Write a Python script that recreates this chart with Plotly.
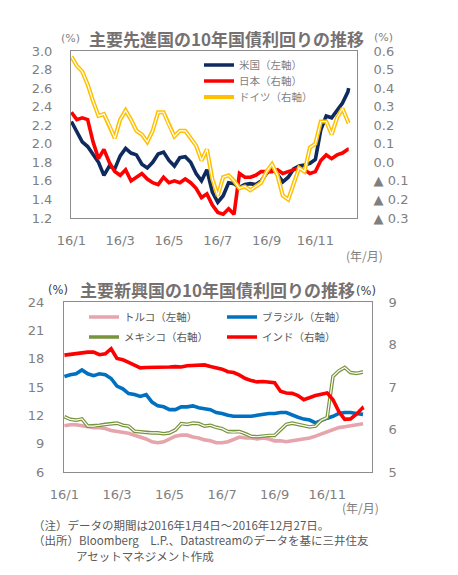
import plotly.graph_objects as go

# ---------------- data ----------------
dates = ["2016-01-04", "2016-01-11", "2016-01-18", "2016-01-25", "2016-02-01", "2016-02-08",
         "2016-02-15", "2016-02-22", "2016-02-29", "2016-03-07", "2016-03-14", "2016-03-21",
         "2016-03-28", "2016-04-04", "2016-04-11", "2016-04-18", "2016-04-25", "2016-05-02",
         "2016-05-09", "2016-05-16", "2016-05-23", "2016-05-30", "2016-06-06", "2016-06-13",
         "2016-06-20", "2016-06-27", "2016-07-04", "2016-07-11", "2016-07-18", "2016-07-25",
         "2016-08-01", "2016-08-08", "2016-08-15", "2016-08-22", "2016-08-29", "2016-09-05",
         "2016-09-12", "2016-09-19", "2016-09-26", "2016-10-03", "2016-10-10", "2016-10-17",
         "2016-10-24", "2016-10-31", "2016-11-07", "2016-11-14", "2016-11-21", "2016-11-28",
         "2016-12-05", "2016-12-12", "2016-12-19", "2016-12-26", "2016-12-27"]

# developed markets (%)
us = [2.24, 2.12, 2.02, 1.97, 1.89, 1.80, 1.66, 1.76, 1.73, 1.87, 1.95, 1.90, 1.88, 1.78,
      1.74, 1.80, 1.89, 1.91, 1.82, 1.76, 1.85, 1.86, 1.80, 1.68, 1.60, 1.72, 1.48, 1.37,
      1.44, 1.58, 1.57, 1.53, 1.56, 1.57, 1.56, 1.60, 1.68, 1.74, 1.67, 1.59, 1.64, 1.73,
      1.76, 1.77, 1.79, 1.83, 2.15, 2.30, 2.28, 2.36, 2.44, 2.56, 2.60]
japan = [0.27, 0.23, 0.24, 0.23, 0.11, 0.02, 0.07, 0.00, -0.05, -0.07, -0.04, -0.10, -0.08,
         -0.06, -0.09, -0.11, -0.12, -0.08, -0.11, -0.10, -0.11, -0.09, -0.11, -0.14, -0.19,
         -0.17, -0.23, -0.27, -0.28, -0.25, -0.28, -0.06, -0.08, -0.08, -0.07, -0.05, -0.05,
         -0.05, -0.04, -0.06, -0.05, -0.04, -0.03, -0.04, -0.06, -0.05, 0.01, 0.04, 0.02,
         0.04, 0.05, 0.07, 0.07]
germany = [0.57, 0.52, 0.49, 0.42, 0.33, 0.25, 0.26, 0.20, 0.13, 0.23, 0.28, 0.23, 0.17,
           0.15, 0.11, 0.17, 0.27, 0.27, 0.20, 0.14, 0.17, 0.17, 0.13, 0.09, 0.01, 0.07,
           -0.09, -0.18, -0.08, -0.07, -0.10, -0.14, -0.13, -0.15, -0.13, -0.11, -0.05,
           -0.01, -0.07, -0.18, -0.20, -0.12, -0.03, -0.05, 0.08, 0.10, 0.22, 0.22, 0.15,
           0.24, 0.29, 0.22, 0.21]

# emerging markets (%)
turkey = [10.9, 11.0, 11.0, 10.9, 10.8, 10.7, 10.7, 10.6, 10.4, 10.3, 10.2, 10.1, 9.9, 9.7,
          9.5, 9.2, 9.1, 9.2, 9.5, 9.8, 9.9, 9.9, 9.7, 9.6, 9.4, 9.3, 9.1, 9.1, 9.2, 9.5,
          9.7, 9.6, 9.6, 9.5, 9.6, 9.5, 9.3, 9.3, 9.2, 9.3, 9.4, 9.5, 9.6, 9.8, 10.0, 10.2,
          10.5, 10.7, 10.8, 10.9, 11.0, 11.1, 11.1]
brazil = [16.1, 16.3, 16.4, 16.8, 16.4, 16.2, 16.4, 16.3, 15.9, 15.1, 14.8, 14.3, 14.2, 14.0,
          14.2, 13.4, 13.0, 12.9, 12.6, 12.6, 12.9, 12.9, 13.0, 12.8, 12.7, 12.6, 12.3, 12.2,
          12.0, 11.9, 11.9, 11.9, 11.9, 12.0, 12.1, 12.2, 12.2, 12.3, 12.3, 12.0, 11.8, 11.6,
          11.5, 11.2, 11.5, 11.7, 11.9, 12.2, 12.3, 12.3, 12.2, 12.1, 12.1]
mexico = [6.30, 6.24, 6.22, 6.25, 6.08, 6.08, 6.10, 6.12, 6.14, 6.15, 6.10, 6.08, 5.96, 5.94,
          5.93, 5.92, 5.92, 5.90, 5.92, 5.99, 6.14, 6.12, 6.15, 6.14, 6.08, 6.10, 6.05, 6.02,
          5.95, 5.94, 5.95, 5.90, 5.84, 5.83, 5.85, 5.86, 5.86, 5.99, 6.12, 6.15, 6.12, 6.08,
          6.06, 6.08, 6.22, 6.28, 7.25, 7.38, 7.46, 7.34, 7.32, 7.35, 7.35]
india = [7.75, 7.77, 7.80, 7.80, 7.82, 7.82, 7.76, 7.78, 7.90, 7.67, 7.64, 7.58, 7.51, 7.45,
         7.46, 7.46, 7.45, 7.47, 7.47, 7.48, 7.47, 7.50, 7.50, 7.52, 7.52, 7.48, 7.46, 7.42,
         7.36, 7.34, 7.28, 7.20, 7.15, 7.12, 7.13, 7.12, 7.10, 6.90, 6.86, 6.85, 6.80, 6.70,
         6.76, 6.80, 6.83, 6.86, 6.70, 6.42, 6.24, 6.25, 6.36, 6.50, 6.46]

x_tick_vals = ["2016-01-04", "2016-03-07", "2016-05-09", "2016-07-11", "2016-09-12", "2016-11-14"]
x_tick_text = ["16/1", "16/3", "16/5", "16/7", "16/9", "16/11"]
x_range = ["2016-01-03 12:00", "2017-01-06 18:00"]

top_left_ticks = [1.2, 1.4, 1.6, 1.8, 2.0, 2.2, 2.4, 2.6, 2.8, 3.0]
top_left_text = ["1.2", "1.4", "1.6", "1.8", "2.0", "2.2", "2.4", "2.6", "2.8", "3.0"]
top_right_ticks = [-0.3, -0.2, -0.1, 0.0, 0.1, 0.2, 0.3, 0.4, 0.5, 0.6]
top_right_text = ["▲ 0.3", "▲ 0.2", "▲ 0.1", "0.0", "0.1", "0.2", "0.3", "0.4", "0.5", "0.6"]
bot_left_ticks = [6, 9, 12, 15, 18, 21, 24]
bot_right_ticks = [5, 6, 7, 8, 9]

# ---------------- figure ----------------
W, H = 458, 575
GRAY = "#7F7F7F"
CJK = "Noto Sans CJK JP"
TICKF = "DejaVu Sans, Noto Sans CJK JP"


def px(x):
    return x / W


def py(y):
    return 1 - y / H


fig = go.Figure()

fig.add_trace(go.Scatter(x=dates, y=us, name="米国（左軸）", mode="lines",
                         line=dict(color="#0E2A5E", width=3.6), xaxis="x", yaxis="y",
                         legend="legend"))
fig.add_trace(go.Scatter(x=dates, y=japan, name="日本（右軸）", mode="lines",
                         line=dict(color="#FF0000", width=3.6), xaxis="x", yaxis="y2",
                         legend="legend4"))
fig.add_trace(go.Scatter(x=dates, y=germany, name="ドイツ（右軸）", mode="lines",
                         line=dict(color="#FFC000", width=4.2), xaxis="x", yaxis="y2",
                         legend="legend5"))
fig.add_trace(go.Scatter(x=dates, y=germany, showlegend=False, mode="lines", hoverinfo="skip",
                         line=dict(color="#FFFFFF", width=1.2), xaxis="x", yaxis="y2"))

fig.add_trace(go.Scatter(x=dates, y=turkey, name="トルコ（左軸）", mode="lines",
                         line=dict(color="#E6A4AC", width=3.6), xaxis="x2", yaxis="y3",
                         legend="legend2"))
fig.add_trace(go.Scatter(x=dates, y=brazil, name="ブラジル（左軸）", mode="lines",
                         line=dict(color="#0070C0", width=3.6), xaxis="x2", yaxis="y3",
                         legend="legend3"))
fig.add_trace(go.Scatter(x=dates, y=mexico, name="メキシコ（右軸）", mode="lines",
                         line=dict(color="#77933C", width=3.6), xaxis="x2", yaxis="y4",
                         legend="legend6"))
fig.add_trace(go.Scatter(x=dates, y=mexico, showlegend=False, mode="lines", hoverinfo="skip",
                         line=dict(color="#FFFFFF", width=1.2), xaxis="x2", yaxis="y4"))
fig.add_trace(go.Scatter(x=dates, y=india, name="インド（右軸）", mode="lines",
                         line=dict(color="#FF0000", width=3.6), xaxis="x2", yaxis="y4",
                         legend="legend7"))

axline = dict(showline=True, linecolor="#8C8C8C", linewidth=1, showgrid=False,
              zeroline=False, ticks="", automargin=False)
tickfont = dict(family=TICKF, size=13, color=GRAY)


def leg(x, y, color):
    return dict(x=px(x), y=py(y), xanchor="left", yanchor="middle",
                bgcolor="rgba(0,0,0,0)", font=dict(family=CJK, size=10.5, color=color),
                tracegroupgap=0, itemwidth=30)


fig.update_layout(
    width=W, height=H, margin=dict(l=0, r=0, t=0, b=0, autoexpand=False),
    paper_bgcolor="white", plot_bgcolor="white",
    xaxis=dict(domain=[px(71), px(357)], anchor="y", type="date", range=x_range,
               tickvals=x_tick_vals, ticktext=x_tick_text, tickfont=tickfont,
               mirror=True, ticklabelstandoff=10, **axline),
    yaxis=dict(domain=[py(218), py(51)], anchor="x", range=[1.2, 3.0],
               tickvals=top_left_ticks, ticktext=top_left_text, tickfont=tickfont,
               mirror=True, ticklabelstandoff=15, **axline),
    yaxis2=dict(overlaying="y", side="right", anchor="x", range=[-0.3, 0.6],
                tickvals=top_right_ticks, ticktext=top_right_text, tickfont=tickfont,
                ticklabelstandoff=13, **axline),
    xaxis2=dict(domain=[px(64), px(372)], anchor="y3", type="date", range=x_range,
                tickvals=x_tick_vals, ticktext=x_tick_text, tickfont=tickfont,
                mirror=True, ticklabelstandoff=10, **axline),
    yaxis3=dict(domain=[py(472), py(302)], anchor="x2", range=[6, 24],
                tickvals=bot_left_ticks, tickfont=tickfont,
                mirror=True, ticklabelstandoff=16, **axline),
    yaxis4=dict(overlaying="y3", side="right", anchor="x2", range=[5, 9],
                tickvals=bot_right_ticks, tickfont=tickfont,
                ticklabelstandoff=13, **axline),
    legend=leg(199, 65, GRAY),
    legend4=leg(199, 81, GRAY),
    legend5=leg(199, 97, GRAY),
    legend2=leg(84, 317, "#595959"),
    legend6=leg(84, 337, "#595959"),
    legend3=leg(222, 317, "#595959"),
    legend7=leg(222, 337, "#595959"),
    showlegend=True,
)

ann = []


def note(text, x, y, size=12, color=GRAY, xanchor="center", bold=False, family=CJK):
    t = f"<b>{text}</b>" if bold else text
    ann.append(dict(text=t, x=px(x), y=py(y), xref="paper", yref="paper",
                    xanchor=xanchor, yanchor="middle", showarrow=False,
                    font=dict(family=family, size=size, color=color)))


note("主要先進国の10年国債利回りの推移", 226, 39, size=17, color="#767171", bold=True)
note("主要新興国の10年国債利回りの推移", 217, 289, size=17, color="#767171", bold=True)
note("(%)", 70, 38, size=11, color=GRAY, family=TICKF)
note("(%)", 383, 37, size=11, color=GRAY, family=TICKF)
note("(%)", 58, 290, size=11.5, color="#404040", family=TICKF)
note("(%)", 366, 291, size=11.5, color="#404040", family=TICKF)
note("(年/月)", 364, 256, size=12, color=GRAY)
note("(年/月)", 360, 507, size=12, color=GRAY)
note("（注）データの期間は2016年1月4日～2016年12月27日。", 31, 525, size=11.5,
     color="#595959", xanchor="left")
note("（出所）Bloomberg　L.P.、Datastreamのデータを基に三井住友", 31, 540, size=11.5,
     color="#595959", xanchor="left")
note("アセットマネジメント作成", 74, 556, size=11.5, color="#595959", xanchor="left")

fig.update_layout(annotations=ann)

fig.write_html("out.html", config={"displayModeBar": False},
               post_script="document.body.style.margin='0px';")
